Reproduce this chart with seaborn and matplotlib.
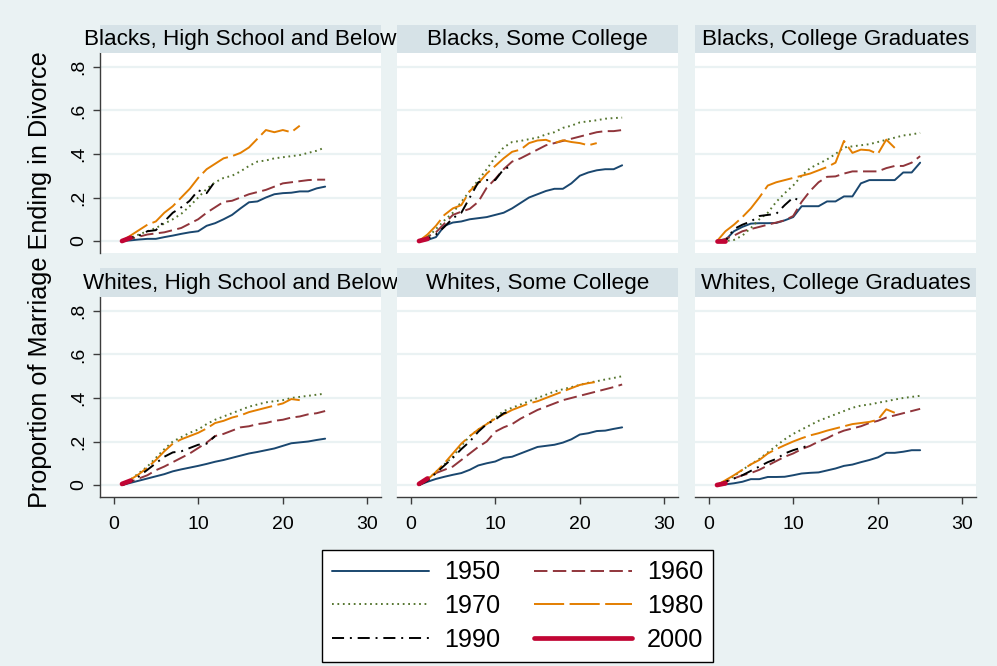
import numpy as np
import pandas as pd
import matplotlib
matplotlib.use("Agg")
import matplotlib.pyplot as plt
import seaborn as sns
from matplotlib.lines import Line2D

# ---------------- data ----------------
COHORTS = ["1950", "1960", "1970", "1980", "1990", "2000"]
PANEL_TITLES = [
    "Blacks, High School and Below",
    "Blacks, Some College",
    "Blacks, College Graduates",
    "Whites, High School and Below",
    "Whites, Some College",
    "Whites, College Graduates",
]
Y_TICKS = [0, 0.2, 0.4, 0.6, 0.8]
Y_TICK_LABELS = ["0", ".2", ".4", ".6", ".8"]
X_TICKS = [0, 10, 20, 30]
X_TICK_LABELS = ["0", "10", "20", "30"]

# Blacks, High School and Below
BHS_1950 = [0.0, 0.003, 0.007, 0.01, 0.01, 0.018, 0.025, 0.033, 0.04, 0.045, 0.07, 0.082, 0.1, 0.12, 0.15,
            0.178, 0.182, 0.2, 0.215, 0.22, 0.222, 0.228, 0.228, 0.242, 0.25]
BHS_1960 = [0.0, 0.01, 0.02, 0.03, 0.035, 0.04, 0.05, 0.06, 0.08, 0.1, 0.13, 0.155, 0.18, 0.185, 0.2,
            0.215, 0.225, 0.235, 0.25, 0.265, 0.27, 0.275, 0.28, 0.282, 0.282]
BHS_1970 = [0.0, 0.015, 0.03, 0.045, 0.06, 0.08, 0.1, 0.125, 0.16, 0.2, 0.24, 0.27, 0.29, 0.3, 0.32,
            0.345, 0.365, 0.37, 0.38, 0.385, 0.39, 0.395, 0.405, 0.415, 0.43]
BHS_1980 = [0.0, 0.025, 0.05, 0.075, 0.09, 0.13, 0.16, 0.2, 0.24, 0.29, 0.33, 0.355, 0.38, 0.39, 0.405,
            0.43, 0.47, 0.51, 0.5, 0.51, 0.5, 0.53]
BHS_1990 = [0.0, 0.015, 0.025, 0.045, 0.05, 0.09, 0.13, 0.155, 0.185, 0.233, 0.22, 0.275]
BHS_2000 = [0.0, 0.015]

# Blacks, Some College
BSC_1950 = [0.0, 0.005, 0.018, 0.07, 0.085, 0.09, 0.1, 0.105, 0.11, 0.12, 0.13, 0.15, 0.175, 0.2, 0.215,
            0.23, 0.24, 0.24, 0.265, 0.3, 0.315, 0.325, 0.33, 0.33, 0.348]
BSC_1960 = [0.0, 0.02, 0.04, 0.08, 0.12, 0.135, 0.148, 0.18, 0.245, 0.285, 0.33, 0.365, 0.38, 0.4, 0.42,
            0.44, 0.45, 0.46, 0.47, 0.48, 0.49, 0.5, 0.505, 0.505, 0.51]
BSC_1970 = [0.0, 0.015, 0.055, 0.095, 0.13, 0.18, 0.23, 0.28, 0.33, 0.385, 0.43, 0.455, 0.46, 0.468, 0.475,
            0.49, 0.5, 0.52, 0.53, 0.545, 0.55, 0.555, 0.562, 0.565, 0.567]
BSC_1980 = [0.0, 0.03, 0.07, 0.12, 0.15, 0.165, 0.23, 0.265, 0.31, 0.345, 0.38, 0.41, 0.42, 0.45, 0.462,
            0.465, 0.45, 0.463, 0.455, 0.45, 0.44, 0.45]
BSC_1990 = [0.0, 0.01, 0.03, 0.065, 0.105, 0.13, 0.2, 0.27, 0.28, 0.28, 0.33, 0.345]
BSC_2000 = [0.0, 0.01]

# Blacks, College Graduates
BCG_1950 = [0.0, 0.005, 0.045, 0.065, 0.08, 0.082, 0.082, 0.083, 0.095, 0.11, 0.16, 0.16, 0.16, 0.182, 0.182,
            0.205, 0.205, 0.265, 0.28, 0.28, 0.28, 0.28, 0.315, 0.315, 0.36]
BCG_1960 = [0.0, 0.01, 0.025, 0.045, 0.055, 0.065, 0.075, 0.085, 0.095, 0.115, 0.18, 0.23, 0.27, 0.295, 0.297,
            0.31, 0.32, 0.32, 0.32, 0.32, 0.335, 0.345, 0.345, 0.36, 0.39]
BCG_1970 = [0.0, 0.0, 0.005, 0.025, 0.06, 0.1, 0.13, 0.18, 0.22, 0.255, 0.3, 0.335, 0.355, 0.375, 0.4,
            0.43, 0.435, 0.44, 0.445, 0.455, 0.465, 0.475, 0.485, 0.49, 0.497]
BCG_1980 = [0.0, 0.045, 0.075, 0.11, 0.15, 0.2, 0.255, 0.27, 0.28, 0.29, 0.3, 0.31, 0.325, 0.34, 0.36,
            0.46, 0.405, 0.42, 0.417, 0.4, 0.466, 0.428]
BCG_1990 = [0.0, 0.0, 0.055, 0.075, 0.09, 0.115, 0.12, 0.125, 0.165, 0.2, 0.18]
BCG_2000 = [0.0, 0.0]

# Whites, High School and Below
WHS_1950 = [0.0, 0.01, 0.02, 0.03, 0.04, 0.05, 0.063, 0.072, 0.08, 0.088, 0.097, 0.107, 0.115, 0.125, 0.135,
            0.145, 0.152, 0.16, 0.168, 0.18, 0.192, 0.196, 0.2, 0.207, 0.213]
WHS_1960 = [0.0, 0.015, 0.03, 0.045, 0.068, 0.085, 0.105, 0.125, 0.145, 0.17, 0.195, 0.225, 0.235, 0.25, 0.265,
            0.27, 0.28, 0.285, 0.295, 0.3, 0.31, 0.315, 0.325, 0.33, 0.34]
WHS_1970 = [0.0, 0.025, 0.055, 0.085, 0.125, 0.165, 0.2, 0.22, 0.24, 0.255, 0.28, 0.3, 0.315, 0.33, 0.345,
            0.36, 0.37, 0.38, 0.385, 0.39, 0.4, 0.405, 0.41, 0.415, 0.42]
WHS_1980 = [0.0, 0.025, 0.05, 0.08, 0.115, 0.155, 0.19, 0.21, 0.225, 0.24, 0.26, 0.285, 0.295, 0.31, 0.32,
            0.335, 0.345, 0.355, 0.365, 0.375, 0.395, 0.39]
WHS_1990 = [0.0, 0.015, 0.04, 0.07, 0.1, 0.13, 0.15, 0.155, 0.17, 0.185, 0.19, 0.225]
WHS_2000 = [0.005, 0.02]

# Whites, Some College
WSC_1950 = [0.0, 0.015, 0.028, 0.038, 0.047, 0.055, 0.07, 0.09, 0.1, 0.108, 0.125, 0.13, 0.145, 0.16, 0.175,
            0.18, 0.185, 0.195, 0.21, 0.232, 0.238, 0.248, 0.25, 0.258, 0.265]
WSC_1960 = [0.0, 0.03, 0.055, 0.07, 0.085, 0.115, 0.145, 0.175, 0.2, 0.245, 0.265, 0.28, 0.305, 0.325, 0.345,
            0.36, 0.375, 0.39, 0.4, 0.41, 0.42, 0.43, 0.44, 0.45, 0.462]
WSC_1970 = [0.0, 0.025, 0.06, 0.095, 0.13, 0.18, 0.225, 0.255, 0.28, 0.31, 0.34, 0.355, 0.37, 0.385, 0.4,
            0.415, 0.43, 0.44, 0.45, 0.46, 0.47, 0.477, 0.485, 0.492, 0.5]
WSC_1980 = [0.0, 0.025, 0.06, 0.1, 0.145, 0.19, 0.225, 0.255, 0.28, 0.305, 0.325, 0.345, 0.36, 0.375, 0.385,
            0.4, 0.415, 0.43, 0.445, 0.46, 0.468, 0.474]
WSC_1990 = [0.0, 0.02, 0.055, 0.09, 0.125, 0.165, 0.2, 0.245, 0.28, 0.3, 0.33, 0.34]
WSC_2000 = [0.005, 0.03]

# Whites, College Graduates
WCG_1950 = [0.0, 0.003, 0.008, 0.015, 0.027, 0.027, 0.037, 0.037, 0.038, 0.045, 0.053, 0.056, 0.058, 0.067, 0.076,
            0.088, 0.094, 0.105, 0.115, 0.127, 0.148, 0.148, 0.153, 0.16, 0.16]
WCG_1960 = [0.0, 0.015, 0.03, 0.045, 0.055, 0.07, 0.09, 0.11, 0.13, 0.145, 0.165, 0.18, 0.2, 0.215, 0.235,
            0.25, 0.26, 0.27, 0.285, 0.295, 0.31, 0.32, 0.33, 0.34, 0.35]
WCG_1970 = [0.0, 0.02, 0.04, 0.07, 0.095, 0.12, 0.15, 0.18, 0.21, 0.235, 0.255, 0.275, 0.295, 0.31, 0.325,
            0.34, 0.355, 0.365, 0.37, 0.378, 0.385, 0.393, 0.4, 0.405, 0.41]
WCG_1980 = [0.0, 0.022, 0.045, 0.07, 0.095, 0.115, 0.145, 0.165, 0.183, 0.2, 0.215, 0.228, 0.238, 0.25, 0.26,
            0.27, 0.28, 0.285, 0.29, 0.3, 0.348, 0.332]
WCG_1990 = [0.0, 0.015, 0.03, 0.045, 0.065, 0.085, 0.105, 0.12, 0.145, 0.16, 0.172, 0.183]
WCG_2000 = [0.0, 0.008]

PANEL_SERIES = [
    [BHS_1950, BHS_1960, BHS_1970, BHS_1980, BHS_1990, BHS_2000],
    [BSC_1950, BSC_1960, BSC_1970, BSC_1980, BSC_1990, BSC_2000],
    [BCG_1950, BCG_1960, BCG_1970, BCG_1980, BCG_1990, BCG_2000],
    [WHS_1950, WHS_1960, WHS_1970, WHS_1980, WHS_1990, WHS_2000],
    [WSC_1950, WSC_1960, WSC_1970, WSC_1980, WSC_1990, WSC_2000],
    [WCG_1950, WCG_1960, WCG_1970, WCG_1980, WCG_1990, WCG_2000],
]

rows = []
for p, (title, series) in enumerate(zip(PANEL_TITLES, PANEL_SERIES)):
    for cohort, vals in zip(COHORTS, series):
        for i, v in enumerate(vals):
            rows.append({"panel": title, "cohort": cohort, "duration": i + 1, "prop": v})
df = pd.DataFrame(rows)

# ---------------- styles ----------------
PALETTE = {"1950": "#1a476f", "1960": "#90353b", "1970": "#55752f",
           "1980": "#e37e00", "1990": "#000000", "2000": "#c10534"}
DASHES = {"1950": "", "1960": (6.9, 2.8), "1970": (0.9, 1.9), "1980": (15.5, 2.8),
          "1990": (6.2, 3.0, 1.0, 3.0), "2000": ""}
SIZES = {"1950": 1.4, "1960": 1.4, "1970": 1.4, "1980": 1.4, "1990": 1.4, "2000": 3.4}

BG = "#eaf2f3"
STRIP = "#d6e2e7"
AXC = "#3c3c3c"

plt.rcParams["font.family"] = ["Liberation Sans", "DejaVu Sans"]
plt.rcParams["lines.solid_capstyle"] = "round"

W, H = 997, 666
fig = plt.figure(figsize=(W / 100, H / 100), dpi=100, facecolor=BG)

COL_LEFT = [100, 397, 695]
COL_W = 281
ROW_STRIP_TOP = [25, 268]
ROW_PLOT_TOP = [53, 297]
ROW_PLOT_BOT = [253, 497]


def fig_rect(x0, y0, x1, y1):
    return [x0 / W, 1 - y1 / H, (x1 - x0) / W, (y1 - y0) / H]


for p, title in enumerate(PANEL_TITLES):
    r, c = divmod(p, 3)
    x0 = COL_LEFT[c]
    x1 = x0 + COL_W
    ax = fig.add_axes(fig_rect(x0, ROW_PLOT_TOP[r], x1, ROW_PLOT_BOT[r]))
    ax.set_facecolor("white")
    for yv in Y_TICKS:
        ax.axhline(yv, color=BG, lw=1.6, zorder=0.5)
    sub = df[df["panel"] == title]
    sns.lineplot(data=sub, x="duration", y="prop", hue="cohort", style="cohort", size="cohort",
                 hue_order=COHORTS, style_order=COHORTS, size_order=COHORTS,
                 palette=PALETTE, dashes=DASHES, sizes=SIZES, estimator=None,
                 legend=False, ax=ax, zorder=3)
    ax.set_xlim(-1.6, 31.6)
    ax.set_ylim(-0.055, 0.864)
    ax.set_xlabel("")
    ax.set_ylabel("")
    for s in ["top", "right"]:
        ax.spines[s].set_visible(False)
    if c == 0:
        ax.spines["left"].set_color(AXC)
        ax.spines["left"].set_linewidth(1.0)
        ax.set_yticks(Y_TICKS, Y_TICK_LABELS, rotation=90, va="center", fontsize=14)
        ax.tick_params(axis="y", length=5, width=1, color=AXC, pad=4)
    else:
        ax.spines["left"].set_visible(False)
        ax.set_yticks(Y_TICKS)
        ax.tick_params(axis="y", length=0, labelleft=False)
    if r == 1:
        ax.spines["bottom"].set_color(AXC)
        ax.spines["bottom"].set_linewidth(1.0)
        ax.set_xticks(X_TICKS, X_TICK_LABELS, fontsize=14)
        ax.tick_params(axis="x", length=5, width=1, color=AXC, pad=8.5)
    else:
        ax.spines["bottom"].set_visible(False)
        ax.set_xticks([])
    ax.grid(False)

    sax = fig.add_axes(fig_rect(x0, ROW_STRIP_TOP[r], x1, ROW_PLOT_TOP[r]))
    sax.set_facecolor(STRIP)
    for s in sax.spines.values():
        s.set_visible(False)
    sax.set_xticks([])
    sax.set_yticks([])
    sax.text(0.5, 0.48, title, ha="center", va="center", fontsize=16.2,
             transform=sax.transAxes, clip_on=False)

fig.text(40 / W, 1 - 280 / H, "Proportion of Marriage Ending in Divorce", rotation=90,
         ha="center", va="center", fontsize=18.2)

# legend
order = ["1950", "1970", "1990", "1960", "1980", "2000"]
handles = []
for k in order:
    d = DASHES[k]
    ls = "-" if d == "" else (0, d)
    handles.append(Line2D([], [], color=PALETTE[k], lw=SIZES[k], linestyle=ls))
leg = fig.legend(handles, order, loc="center", bbox_to_anchor=(517.5 / W, 1 - 606 / H), ncol=2,
                 fontsize=18.2, frameon=True, fancybox=False, framealpha=1, edgecolor="black",
                 handlelength=3.85, handletextpad=0.6, columnspacing=1.35, labelspacing=0.38,
                 borderpad=0.4, borderaxespad=0)
leg.get_frame().set_linewidth(1.0)
leg.get_frame().set_facecolor("white")

fig.savefig("out.png", dpi=100, facecolor=BG)
